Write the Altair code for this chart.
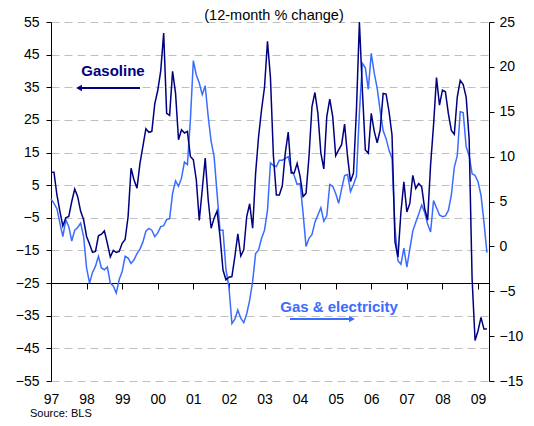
import json
import altair as alt
import pandas as pd

# Monthly 12-month % change, Jan 1997 .. Apr 2009
gasoline = [
    9, 9, 2, -3, -7.5, -5, -4.6, 0, 3.8, 1.5, -3, -5.6,                       # 1997
    -10.7, -13, -15.6, -15.3, -10.5, -10, -9, -12.8, -17, -15, -15.6, -15.3,  # 1998
    -12.8, -11.6, -4.6, 10.2, 6.6, 4.1, 11.7, 17, 22.3, 21.2, 21.5, 30,       # 1999
    34, 40, 51.6, 27, 26.4, 39.9, 33.2, 18.9, 22, 21, 21.5, 13.8,             # 2000
    12.8, 6.6, -5.8, 3.6, 13.3, 0.6, -8.2, -5.1, -2.9, -10.7, -21, -24,       # 2001
    -23.2, -23, -16.9, -9.9, -16.7, -14.8, -4.6, -0.7, -8.2, 8.7, 19.9, 28.1, # 2002
    35, 49.1, 38, 14, 2, 2, 4.8, 14.8, 21.3, 8.7, 8.7, 11.7,                  # 2003
    7.7, 1.5, 2.5, 13.8, 29.1, 33.4, 27, 14.8, 10, 26, 31.4, 26,              # 2004
    14, 15.8, 17.4, 23.7, 13.8, 6.1, 8.7, 28.1, 55, 34.2, 15.8, 14.8,         # 2005
    27, 21.5, 18, 21.9, 33.1, 32.9, 27.5, 20.3, -12.4, -17, -3.2, 6,          # 2006
    -3.2, -0.6, 8, 4, 5.5, 4.5, -2.1, -5.7, 11.2, 23.4, 38, 29.5,             # 2007
    34.1, 33.6, 26.9, 21.8, 20.6, 32, 37.1, 35.8, 32, 19.2, -23.7, -42.6,     # 2008
    -39.6, -35.5, -39.1, -39.1,                                               # 2009
]
gas_electricity = [
    5.3, 4.8, 4.2, 2.6, 1.1, 2.95, 2.2, 0.6, 1.8, 2.1, 2.6, 1.1,             # 1997
    -2.4, -4.1, -2.9, -2.2, -1.1, -2.4, -2.6, -2.3, -4.1, -4.4, -5.2, -3.7,  # 1998
    -2.8, -1.1, -1.3, -1.9, -1.5, -0.8, -0.3, 0.5, 1.7, 2, 1.8, 1.1,         # 1999
    1.5, 2.2, 2.3, 3, 3.1, 5.9, 7.3, 6.7, 7.6, 9.4, 9.1, 14.1,               # 2000
    20.7, 19.1, 18.2, 16.9, 17.9, 14.5, 11.7, 10, 5.9, 1.8, 1.8, -2.6,       # 2001
    -4.5, -8.6, -8.1, -7.1, -8, -8.5, -7.5, -6, -3.9, -0.8, -0.4, 0.9,       # 2002
    1.8, 4, 9.3, 9, 8.9, 9.6, 9.6, 9.8, 10, 8.5, 7.9, 6.9,                   # 2003
    7, 3.7, 0, 0.9, 1.3, 2.7, 3.5, 4.3, 2.8, 3.4, 6.9, 6.7,                  # 2004
    5.9, 4.8, 6.4, 7.9, 8, 6.1, 6.9, 7.8, 14.9, 20.4, 19.9, 17.5,            # 2005
    21.5, 19.3, 17.6, 15.1, 12.9, 12, 10.7, 9.8, 2, -1.6, -2, -0.2,          # 2006
    -2.3, -0.3, 1.7, 2.7, 3.6, 4.6, 3.8, 2.5, 1.6, 5.1, 4.3, 3.5,            # 2007
    3.3, 3.4, 4, 5.7, 8.8, 10.1, 15, 14.9, 11.1, 10.1, 8.1, 7.9,             # 2008
    7.2, 5.7, 2.7, -0.7,                                                     # 2009
]
year_labels = ["97", "98", "99", "00", "01", "02", "03", "04", "05", "06", "07", "08", "09"]
left_ticks = [-55, -45, -35, -25, -15, -5, 5, 15, 25, 35, 45, 55]
right_ticks = [-15, -10, -5, 0, 5, 10, 15, 20, 25]
title_text = ["(12-month % change)"]
gas_label = ["Gasoline"]
elec_label = ["Gas & electricity"]
source_text = ["Source: BLS"]

df = pd.DataFrame({
    "m": list(range(len(gasoline))),
    "gasoline": gasoline,
    "gas_electricity": gas_electricity,
})

W, H = 438, 359
NAVY = "#000080"
BLUE = "#3a6cff"
FONT = "Liberation Sans"

label_expr = json.dumps(year_labels) + "[round(datum.value/12)]"
x_axis = alt.Axis(
    values=[12 * i for i in range(len(year_labels))], labelExpr=label_expr,
    title=None, grid=False, domainColor="black", tickColor="black",
    tickSize=6, offset=-98, labelPadding=103, labelFont=FONT,
    labelFontSize=14, labelColor="black", labelFlush=False,
)
x_enc = alt.X("m:Q", scale=alt.Scale(domain=[0, 147.7], nice=False, zero=False), axis=x_axis)

gas_line = alt.Chart(df).mark_line(color=NAVY, strokeWidth=1.5).encode(
    x=x_enc,
    y=alt.Y("gasoline:Q",
            scale=alt.Scale(domain=[-55, 55], nice=False, zero=False),
            axis=alt.Axis(values=left_ticks, orient="left", title=None, grid=True,
                          gridDash=[8, 5], gridColor="#c0c0c0", domainColor="black",
                          tickColor="black", tickSize=5, labelPadding=7,
                          labelFont=FONT, labelFontSize=14, labelColor="black")),
)
elec_line = alt.Chart(df).mark_line(color=BLUE, strokeWidth=1.5).encode(
    x=x_enc,
    y=alt.Y("gas_electricity:Q",
            scale=alt.Scale(domain=[-15, 25], nice=False, zero=False),
            axis=alt.Axis(values=right_ticks, orient="right", title=None, grid=False,
                          domainColor="black", tickColor="black", tickSize=5,
                          labelPadding=5, labelFont=FONT, labelFontSize=14,
                          labelColor="black")),
)


def text_layer(txt, x, y, **kw):
    return alt.Chart(pd.DataFrame({"t": txt})).mark_text(**kw).encode(
        x=alt.value(x), y=alt.value(y), text="t:N")


title = text_layer(title_text, 223, -6, font=FONT, fontSize=14.5, color="black")
gas_txt = text_layer(gas_label, 62, 49, font=FONT, fontSize=15, fontWeight="bold", color=NAVY)
elec_txt = text_layer(elec_label, 288, 285, font=FONT, fontSize=15, fontWeight="bold", color=BLUE)
source = text_layer(source_text, -21, 392, font=FONT, fontSize=11, color="black", align="left")

one = pd.DataFrame({"k": [0]})
gas_arrow = alt.Chart(one).mark_rule(color=NAVY, strokeWidth=2).encode(
    x=alt.value(30), x2=alt.value(89), y=alt.value(66))
gas_head = alt.Chart(one).mark_point(shape="triangle-left", filled=True, color=NAVY,
                                     size=45, opacity=1).encode(
    x=alt.value(28), y=alt.value(66))
elec_arrow = alt.Chart(one).mark_rule(color=BLUE, strokeWidth=2).encode(
    x=alt.value(239), x2=alt.value(299), y=alt.value(297))
elec_head = alt.Chart(one).mark_point(shape="triangle-right", filled=True, color=BLUE,
                                      size=45, opacity=1).encode(
    x=alt.value(301), y=alt.value(297))

chart = alt.layer(
    elec_line, gas_line, title, gas_txt, elec_txt, source,
    gas_arrow, gas_head, elec_arrow, elec_head,
).resolve_scale(y="independent").properties(
    width=W, height=H,
    padding={"left": 43, "top": 14, "right": 37, "bottom": 45},
    autosize=alt.AutoSizeParams(type="none"),
).configure_view(stroke=None)

chart.save("out.html", embed_options={"renderer": "svg", "actions": False})
